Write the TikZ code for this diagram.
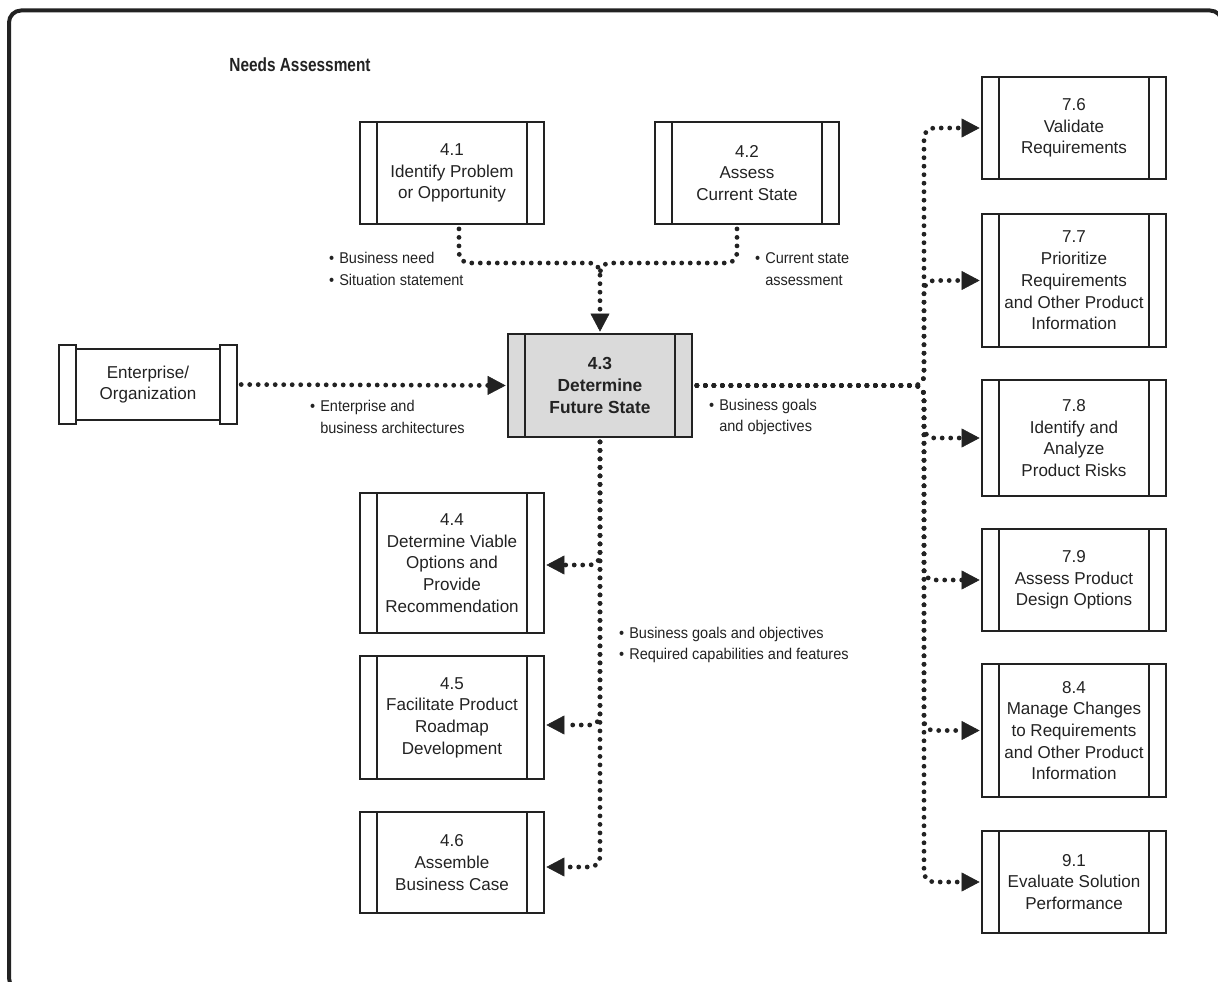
\documentclass[tikz,border=0pt]{standalone}
\usepackage{fontspec}
\setmainfont{Liberation Sans}
\newfontfamily\boxfont[FakeStretch=0.99]{Liberation Sans}
\newfontfamily\lblfont[FakeStretch=0.93]{Liberation Sans}
\newfontfamily\ttlfont[FakeStretch=0.81]{Liberation Sans}
\usetikzlibrary{arrows.meta}
\definecolor{ink}{HTML}{222222}
\definecolor{boxgray}{RGB}{218,218,218}

\tikzset{
  proc/.style={draw=ink, line width=1.8pt, minimum width=184pt, minimum height=#1,
    inner sep=0pt, align=center, text=ink,
    font=\boxfont\fontsize{17.2}{21.7}\selectfont,
    path picture={
      \draw[ink, line width=1.8pt]
        ([xshift=17pt]path picture bounding box.north west) --
        ([xshift=17pt]path picture bounding box.south west)
        ([xshift=-17pt]path picture bounding box.north east) --
        ([xshift=-17pt]path picture bounding box.south east);}},
  hub/.style={proc=#1, fill=boxgray, font=\boxfont\bfseries\fontsize{17.5}{21.7}\selectfont},
  lbl/.style={anchor=west, align=left, inner sep=0pt, text=ink,
    font=\lblfont\fontsize{15.6}{21.7}\selectfont},
  dots/.style={draw=ink, line width=4.8pt, line cap=round, dash pattern=on 0pt off 8.5pt,
    rounded corners=10pt, shorten <=4pt},
  flow/.style={dots, shorten >=1.5pt,
    -{Triangle[length=18pt, width=19pt, line width=0.5pt]}},
  boxline/.style={draw=ink, line width=1.8pt}
}
\newcommand{\bul}{\textbullet\hspace{5pt}}
\newcommand{\ind}{\hphantom{\textbullet\hspace{5pt}}}

\begin{document}
\begin{tikzpicture}[x=1pt, y=-1pt]
  \useasboundingbox (0,0) rectangle (1218,982);
  \clip (0,0) rectangle (1218,982);

  % outer frame
  \draw[ink, line width=4pt, rounded corners=12pt] (9,10.5) rectangle (1222,990);

  % title
  \node[text=ink, inner sep=0pt, font=\ttlfont\bfseries\fontsize{19}{22}\selectfont]
    (title) at (300,65) {Needs Assessment};

  % process boxes
  \node[proc=102pt] (b41) at (452,173) {4.1\\Identify Problem\\or Opportunity};
  \node[proc=102pt] (b42) at (747,173) {4.2\\Assess\\Current State};
  \node[hub=103pt]  (b43) at (600,385.5) {4.3\\Determine\\Future State};
  \node[proc=140pt] (b44) at (452,563) {4.4\\Determine Viable\\Options and\\Provide\\Recommendation};
  \node[proc=123pt] (b45) at (452,717.5) {4.5\\Facilitate Product\\Roadmap\\Development};
  \node[proc=101pt] (b46) at (452,862.5) {4.6\\Assemble\\Business Case};

  \node[proc=102pt] (b76) at (1074,128) {7.6\\Validate\\Requirements};
  \node[proc=133pt] (b77) at (1074,280.5) {7.7\\Prioritize\\Requirements\\and Other Product\\Information};
  \node[proc=116pt] (b78) at (1074,438) {7.8\\Identify and\\Analyze\\Product Risks};
  \node[proc=102pt] (b79) at (1074,580) {7.9\\Assess Product\\Design Options};
  \node[proc=133pt] (b84) at (1074,730.5) {8.4\\Manage Changes\\to Requirements\\and Other Product\\Information};
  \node[proc=102pt] (b91) at (1074,882) {9.1\\Evaluate Solution\\Performance};

  % external entity with taller side panels
  \node[minimum width=178pt, minimum height=79pt, inner sep=0pt, align=center, text=ink,
        font=\boxfont\fontsize{17.2}{21.7}\selectfont] (ent) at (148,384.5) {Enterprise/\\Organization};
  \draw[boxline] (ent.north west) rectangle ([xshift=17pt]ent.south west);
  \draw[boxline] ([xshift=-17pt]ent.north east) rectangle (ent.south east);
  \draw[boxline] ([xshift=17pt,yshift=-4.5pt]ent.north west) -- ([xshift=-17pt,yshift=-4.5pt]ent.north east);
  \draw[boxline] ([xshift=17pt,yshift=4.5pt]ent.south west) -- ([xshift=-17pt,yshift=4.5pt]ent.south east);

  % junction points
  \coordinate (mtop) at (600,263);
  \coordinate (mlow) at (600,275);
  \coordinate (rj) at (924,385.5);

  % inputs to 4.3
  \draw[flow] ([xshift=7pt]b41.south) |- (mtop) -- (b43.north);
  \draw[dots] ([xshift=-10pt]b42.south) |- (mtop) -- (mlow);
  \draw[flow] (ent.east) -- (b43.west);

  % outputs from 4.3 to the left column
  \draw[flow] (b43.south) |- ([yshift=-2pt]b44.east);
  \draw[flow] (b43.south) |- ([yshift=-7.5pt]b45.east);
  \draw[flow] (b43.south) |- ([yshift=-4.5pt]b46.east);

  % outputs from 4.3 to the right column
  \draw[flow] (b43.east) -- (rj) |- (b76.west);
  \draw[flow] (b43.east) -- (rj) |- (b77.west);
  \draw[flow] (b43.east) -- (rj) |- (b78.west);
  \draw[flow] (b43.east) -- (rj) |- (b79.west);
  \draw[flow] (b43.east) -- (rj) |- (b84.west);
  \draw[flow] (b43.east) -- (rj) |- (b91.west);

  % connector labels
  \node[lbl] (l1) at (329,269) {\bul Business need\\\bul Situation statement};
  \node[lbl] (l2) at (755,269) {\bul Current state\\\ind assessment};
  \node[lbl] (l3) at (310,417) {\bul Enterprise and\\\ind business architectures};
  \node[lbl] (l4) at (709,417) {\bul Business goals\\\ind and objectives};
  \node[lbl] (l5) at (619,645) {\bul Business goals and objectives\\\bul Required capabilities and features};
\end{tikzpicture}
\end{document}
